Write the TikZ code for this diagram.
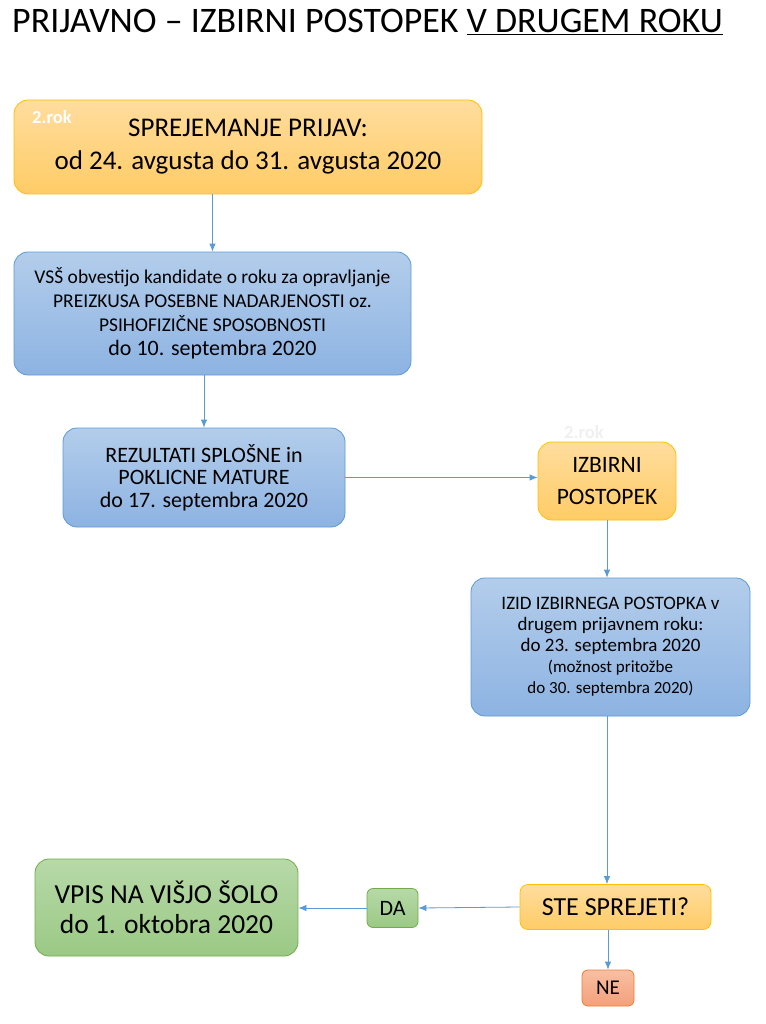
\documentclass[tikz,border=0pt]{standalone}
\usepackage{fontspec}
\setmainfont{Carlito}
\usetikzlibrary{arrows.meta}
\definecolor{obrd}{HTML}{FFC000}
\definecolor{otop}{HTML}{FFDD9E}
\definecolor{obot}{HTML}{FFCC66}
\definecolor{bbrd}{HTML}{5B9BD5}
\definecolor{btop}{HTML}{B3CDEB}
\definecolor{bbot}{HTML}{8DB3E2}
\definecolor{gbrd}{HTML}{70AD47}
\definecolor{gtop}{HTML}{B7D9A8}
\definecolor{gbot}{HTML}{9BC985}
\definecolor{rbrd}{HTML}{ED7D31}
\definecolor{rtop}{HTML}{F8BFA3}
\definecolor{rbot}{HTML}{F4A07A}
\definecolor{arrc}{HTML}{5B9BD5}
\newcommand{\fs}[2]{\fontsize{#1}{#2}\selectfont}
\tikzset{
  box/.style={rounded corners=14pt, line width=0.8pt, align=center, inner sep=0pt, text=black},
  obox/.style={box, draw=obrd, top color=otop, bottom color=obot},
  bbox/.style={box, draw=bbrd, top color=btop, bottom color=bbot},
  gbox/.style={box, draw=gbrd, top color=gtop, bottom color=gbot},
  rbox/.style={box, draw=rbrd, top color=rtop, bottom color=rbot, rounded corners=6pt},
  arr/.style={draw=arrc, line width=0.8pt, -{Latex[length=8pt,width=6.5pt]}},
  tag/.style={font=\bfseries\fs{18.5}{20}, inner sep=0pt}
}
\begin{document}
\begin{tikzpicture}[x=1pt,y=-1pt]
\useasboundingbox (0,0) rectangle (765,1024);
\fill[white] (0,0) rectangle (765,1024);

\node[anchor=west, inner sep=0pt, font=\fs{35.9}{40}] (title) at (12,22)
  {PRIJAVNO -- IZBIRNI POSTOPEK \underline{V DRUGEM ROKU}};

\node[obox, minimum width=468, minimum height=94, font=\fs{27}{33}] (n1) at (248,147)
  {SPREJEMANJE PRIJAV:\\od 24. avgusta do 31. avgusta 2020};
\node[tag, text=white, anchor=west] (t1) at (32,117) {2.rok};

\node[bbox, minimum width=397, minimum height=123, font=\fs{19.5}{24}] (n2) at (212.5,313.5)
  {VSŠ obvestijo kandidate o roku za opravljanje\\PREIZKUSA POSEBNE NADARJENOSTI oz.\\PSIHOFIZIČNE SPOSOBNOSTI\\{\fs{22}{25.5}\selectfont do 10. septembra 2020}};

\node[bbox, minimum width=282, minimum height=99, font=\fs{22}{22.5}] (n3) at (204,477.5)
  {REZULTATI SPLOŠNE in\\POKLICNE MATURE\\do 17. septembra 2020};

\node[obox, minimum width=138, minimum height=78, font=\fs{23.5}{31.7}] (n4) at (607,481)
  {IZBIRNI\\POSTOPEK};
\node[tag, text=black!6, anchor=west] (t2) at (564,432) {2.rok};

\node[bbox, minimum width=279, minimum height=138, font=\fs{19}{21}] (n5) at (610.5,647)
  {IZID IZBIRNEGA POSTOPKA v\\drugem prijavnem roku:\\do 23. septembra 2020\\{\fs{17}{20.5}\selectfont (možnost pritožbe}\\{\fs{17}{19}\selectfont do 30. septembra 2020)}};

\node[obox, rounded corners=8pt, minimum width=191, minimum height=45, font=\fs{26}{28}] (n6) at (615.5,907)
  {STE SPREJETI?};

\node[gbox, rounded corners=6pt, minimum width=51, minimum height=39, font=\fs{22}{26}] (da) at (392.5,908)
  {DA};

\node[gbox, minimum width=263, minimum height=97, font=\fs{27.5}{29.5}] (n7) at (166.5,907.5)
  {VPIS NA VIŠJO ŠOLO\\do 1. oktobra 2020};

\node[rbox, minimum width=52, minimum height=36, font=\fs{21}{24}] (ne) at (608,988)
  {NE};

\draw[arr] (n2.north |- n1.south) -- (n2.north);
\draw[arr] (n3.north |- n2.south) -- (n3.north);
\draw[arr] (n3.east) -- (n3.east -| n4.west);
\draw[arr] (n4.south) -- (n4.south |- n5.north);
\draw[arr] (n4.south |- n5.south) -- (n4.south |- n6.north);
\draw[arr] (n6.west) -- (da.east);
\draw[arr] (da.west) -- (da.west -| n7.east);
\draw[arr] (ne.north |- n6.south) -- (ne.north);
\end{tikzpicture}
\end{document}
